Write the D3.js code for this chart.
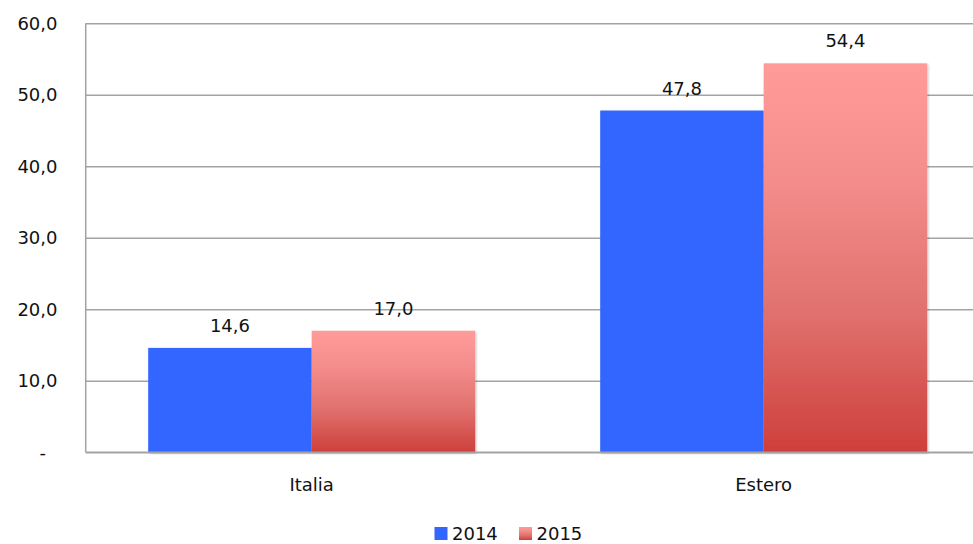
<!DOCTYPE html>
<html lang="it">
<head>
	<meta charset="UTF-8">
	<title>Italia / Estero</title>
	<style>
		* {
			margin: 0;
			padding: 0;
		}
		body {
			background: #fff;
		}
		svg {
			display: block;
			font-family: "DejaVu Sans", Verdana, sans-serif;
		}
	</style>
</head>
<body>
	<script src="https://cdn.jsdelivr.net/npm/d3@7"></script>
	<script>
		var categories = ['Italia', 'Estero'];
		var years = ['2014', '2015'];
		var values2014 = [14.6, 47.8];
		var values2015 = [17.0, 54.4];
		var yTicks = [0, 10, 20, 30, 40, 50, 60];

		var width = 973, height = 544;
		var plot = {left: 85.7, right: 989.7, top: 23.3, bottom: 452.3};

		var svg = d3.select('body').append('svg').attr('width', width).attr('height', height);

		var defs = svg.append('defs');
		// gradiente rosso delle barre 2015
		var grad = defs.append('linearGradient').attr('id', 'red').attr('x1', 0).attr('y1', 0).attr('x2', 0).attr('y2', 1);
		grad.append('stop').attr('offset', '0%').attr('stop-color', '#ff9b99');
		grad.append('stop').attr('offset', '30%').attr('stop-color', '#f38d8b');
		grad.append('stop').attr('offset', '65%').attr('stop-color', '#e0706d');
		grad.append('stop').attr('offset', '100%').attr('stop-color', '#ce3f3b');

		var shadow = defs.append('filter').attr('id', 'shadow').attr('x', '-5%').attr('y', '-5%').attr('width', '115%').attr('height', '115%');
		shadow.append('feDropShadow').attr('dx', 1).attr('dy', 1).attr('stdDeviation', 1.2)
			.attr('flood-color', '#000').attr('flood-opacity', 0.25);

		var fills = {'2014': '#3366ff', '2015': 'url(#red)'};

		var x0 = d3.scaleBand().domain(categories).range([plot.left, plot.right]);
		var x1 = d3.scaleBand().domain(years).range([62.5, x0.bandwidth() - 62.5]);
		var y = d3.scaleLinear().domain([0, 60]).range([plot.bottom, plot.top]);

		// griglia
		svg.append('g')
			.attr('transform', 'translate(' + plot.left + ',0)')
			.call(d3.axisLeft(y).tickValues(yTicks).tickSize(-(plot.right - plot.left)).tickFormat(''))
			.call(function (g) {
				g.select('.domain').remove();
				g.selectAll('line').attr('stroke', '#a3a3a3').attr('stroke-width', 1.5);
			});

		// etichette asse y
		svg.append('g')
			.selectAll('text')
			.data(yTicks)
			.enter()
			.append('text')
			.attr('x', function (d) { return d === 0 ? 46 : 57.5; })
			.attr('y', function (d) { return y(d); })
			.attr('dy', '0.36em')
			.attr('text-anchor', 'end')
			.style('font-size', '18px')
			.style('fill', '#111')
			.text(function (d) { return d === 0 ? '-' : d3.format('.1f')(d).replace('.', ','); });

		var data = [];
		categories.forEach(function (c, i) {
			data.push({cat: c, year: '2014', value: values2014[i]});
			data.push({cat: c, year: '2015', value: values2015[i]});
		});

		// barre
		svg.append('g')
			.selectAll('rect')
			.data(data)
			.enter()
			.append('rect')
			.attr('x', function (d) { return x0(d.cat) + x1(d.year); })
			.attr('y', function (d) { return y(d.value); })
			.attr('width', x1.bandwidth())
			.attr('height', function (d) { return y(0) - y(d.value); })
			.attr('fill', function (d) { return fills[d.year]; })
			.attr('filter', 'url(#shadow)');

		// assi
		svg.append('line')
			.attr('x1', plot.left).attr('x2', plot.left)
			.attr('y1', plot.top).attr('y2', plot.bottom)
			.attr('stroke', '#a3a3a3').attr('stroke-width', 1.5);
		svg.append('line')
			.attr('x1', plot.left).attr('x2', plot.right)
			.attr('y1', plot.bottom).attr('y2', plot.bottom)
			.attr('stroke', '#a3a3a3').attr('stroke-width', 1.5);

		// valori
		svg.append('g')
			.selectAll('text')
			.data(data)
			.enter()
			.append('text')
			.attr('x', function (d) { return x0(d.cat) + x1(d.year) + x1.bandwidth() / 2; })
			.attr('y', function (d) { return y(d.value) - 16; })
			.attr('text-anchor', 'middle')
			.style('font-size', '18px')
			.style('fill', '#111')
			.text(function (d) { return d3.format('.1f')(d.value).replace('.', ','); });

		// categorie
		svg.append('g')
			.selectAll('text')
			.data(categories)
			.enter()
			.append('text')
			.attr('x', function (d) { return x0(d) + x0.bandwidth() / 2; })
			.attr('y', 491)
			.attr('text-anchor', 'middle')
			.style('font-size', '18px')
			.style('fill', '#111')
			.text(function (d) { return d; });

		// legenda
		var legendX = [434.5, 519];
		var legend = svg.append('g')
			.selectAll('g')
			.data(years)
			.enter()
			.append('g')
			.attr('transform', function (d, i) { return 'translate(' + legendX[i] + ',527)'; });
		legend.append('rect')
			.attr('width', 13)
			.attr('height', 13)
			.attr('fill', function (d) { return fills[d]; });
		legend.append('text')
			.attr('x', 17.5)
			.attr('y', 13)
			.style('font-size', '18px')
			.style('fill', '#111')
			.text(function (d) { return d; });
	</script>
</body>
</html>
